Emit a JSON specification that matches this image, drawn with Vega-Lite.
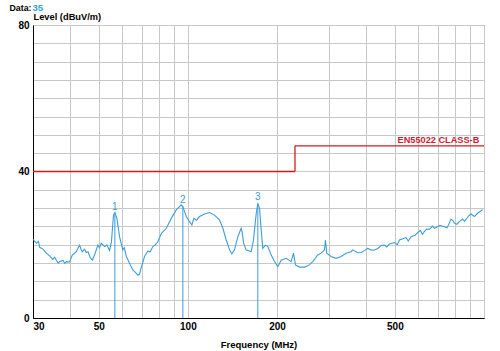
{
  "$schema": "https://vega.github.io/schema/vega-lite/v6.json",
  "width": 451,
  "height": 293,
  "autosize": {"type": "none"},
  "padding": {"left": 33, "top": 25, "right": 16, "bottom": 33},
  "background": "white",
  "config": {"view": {"stroke": "#444444", "strokeWidth": 1}, "font": "Liberation Sans"},
  "datasets": {
    "trace": [
      {"freq": 30.0, "level": 21.5}, {"freq": 30.8, "level": 20.4}, {"freq": 31.3, "level": 20.9},
      {"freq": 31.6, "level": 19.3}, {"freq": 32.4, "level": 18.8}, {"freq": 33.3, "level": 17.7},
      {"freq": 34.2, "level": 16.9}, {"freq": 35.0, "level": 16.0}, {"freq": 35.5, "level": 16.6},
      {"freq": 36.0, "level": 15.7}, {"freq": 36.5, "level": 15.0}, {"freq": 36.9, "level": 15.4},
      {"freq": 37.9, "level": 15.7}, {"freq": 38.4, "level": 14.9}, {"freq": 38.9, "level": 15.4},
      {"freq": 39.9, "level": 15.3}, {"freq": 40.7, "level": 17.2}, {"freq": 41.3, "level": 17.6},
      {"freq": 42.0, "level": 18.1}, {"freq": 42.6, "level": 19.2}, {"freq": 43.1, "level": 19.9},
      {"freq": 43.6, "level": 18.7}, {"freq": 44.0, "level": 18.1}, {"freq": 44.8, "level": 18.8},
      {"freq": 45.4, "level": 17.9}, {"freq": 46.0, "level": 18.1}, {"freq": 46.8, "level": 16.5},
      {"freq": 47.6, "level": 15.8}, {"freq": 48.4, "level": 17.2}, {"freq": 49.7, "level": 19.9},
      {"freq": 50.3, "level": 19.2}, {"freq": 51.0, "level": 20.4}, {"freq": 52.4, "level": 19.5},
      {"freq": 53.3, "level": 19.9}, {"freq": 54.4, "level": 18.4}, {"freq": 55.2, "level": 20.8},
      {"freq": 56.1, "level": 28.1}, {"freq": 56.7, "level": 28.8}, {"freq": 57.6, "level": 27.2},
      {"freq": 58.8, "level": 22.2}, {"freq": 60.3, "level": 18.6}, {"freq": 61.0, "level": 19.2},
      {"freq": 62.0, "level": 16.8}, {"freq": 63.6, "level": 14.9}, {"freq": 65.2, "level": 13.1},
      {"freq": 67.0, "level": 12.2}, {"freq": 67.8, "level": 11.7}, {"freq": 68.7, "level": 12.0},
      {"freq": 69.2, "level": 13.1}, {"freq": 71.4, "level": 16.8}, {"freq": 73.3, "level": 18.3},
      {"freq": 74.5, "level": 18.0}, {"freq": 76.2, "level": 19.5}, {"freq": 77.5, "level": 19.9},
      {"freq": 79.2, "level": 20.8}, {"freq": 81.4, "level": 23.1}, {"freq": 84.6, "level": 24.5},
      {"freq": 87.9, "level": 27.2}, {"freq": 91.4, "level": 29.5}, {"freq": 95.0, "level": 30.9},
      {"freq": 96.2, "level": 30.4}, {"freq": 98.8, "level": 27.7}, {"freq": 101.3, "level": 26.3},
      {"freq": 103.2, "level": 25.4}, {"freq": 104.8, "level": 27.2}, {"freq": 107.0, "level": 26.7},
      {"freq": 109.5, "level": 27.7}, {"freq": 113.8, "level": 28.4}, {"freq": 118.4, "level": 28.8},
      {"freq": 123.0, "level": 28.1}, {"freq": 127.9, "level": 26.8}, {"freq": 131.3, "level": 24.5},
      {"freq": 134.8, "level": 21.3}, {"freq": 138.3, "level": 18.6}, {"freq": 140.8, "level": 17.5},
      {"freq": 143.7, "level": 18.6}, {"freq": 147.5, "level": 22.2}, {"freq": 151.4, "level": 24.5},
      {"freq": 152.5, "level": 23.6}, {"freq": 154.2, "level": 20.5}, {"freq": 157.4, "level": 18.6},
      {"freq": 163.6, "level": 18.1}, {"freq": 166.6, "level": 21.3}, {"freq": 170.2, "level": 28.6},
      {"freq": 172.3, "level": 31.3}, {"freq": 174.6, "level": 30.0}, {"freq": 176.9, "level": 24.0},
      {"freq": 179.1, "level": 19.0}, {"freq": 182.9, "level": 19.9}, {"freq": 186.2, "level": 19.5},
      {"freq": 191.2, "level": 17.2}, {"freq": 196.1, "level": 15.4}, {"freq": 201.2, "level": 14.0},
      {"freq": 206.6, "level": 15.8}, {"freq": 214.8, "level": 16.3}, {"freq": 223.3, "level": 15.4},
      {"freq": 227.3, "level": 17.7}, {"freq": 230.9, "level": 14.5}, {"freq": 238.2, "level": 13.9},
      {"freq": 247.6, "level": 13.9}, {"freq": 257.4, "level": 14.5}, {"freq": 264.1, "level": 15.4},
      {"freq": 274.6, "level": 17.2}, {"freq": 281.9, "level": 17.7}, {"freq": 289.2, "level": 18.6},
      {"freq": 291.5, "level": 21.3}, {"freq": 294.4, "level": 17.7}, {"freq": 304.6, "level": 16.8},
      {"freq": 316.7, "level": 16.3}, {"freq": 329.3, "level": 16.8}, {"freq": 342.3, "level": 17.7},
      {"freq": 355.9, "level": 18.1}, {"freq": 360.0, "level": 18.6}, {"freq": 374.6, "level": 17.8},
      {"freq": 385.0, "level": 17.9}, {"freq": 394.7, "level": 18.4}, {"freq": 405.0, "level": 19.0},
      {"freq": 415.8, "level": 18.6}, {"freq": 425.0, "level": 18.5}, {"freq": 437.5, "level": 19.0},
      {"freq": 450.0, "level": 19.8}, {"freq": 460.9, "level": 19.9}, {"freq": 470.0, "level": 19.4},
      {"freq": 479.2, "level": 20.2}, {"freq": 498.2, "level": 20.6}, {"freq": 510.0, "level": 20.0},
      {"freq": 518.0, "level": 21.3}, {"freq": 538.5, "level": 21.8}, {"freq": 545.0, "level": 22.0},
      {"freq": 555.0, "level": 21.0}, {"freq": 567.3, "level": 22.2}, {"freq": 585.0, "level": 22.6},
      {"freq": 597.0, "level": 23.3}, {"freq": 610.0, "level": 23.9}, {"freq": 620.0, "level": 22.8},
      {"freq": 629.0, "level": 23.6}, {"freq": 640.0, "level": 24.3}, {"freq": 653.9, "level": 24.2},
      {"freq": 670.9, "level": 25.1}, {"freq": 680.0, "level": 24.5}, {"freq": 697.5, "level": 24.9},
      {"freq": 710.0, "level": 25.3}, {"freq": 734.8, "level": 24.9}, {"freq": 750.0, "level": 24.6},
      {"freq": 763.8, "level": 25.9}, {"freq": 774.0, "level": 27.0}, {"freq": 785.0, "level": 26.6},
      {"freq": 794.1, "level": 25.9}, {"freq": 810.0, "level": 25.6}, {"freq": 825.6, "level": 26.3},
      {"freq": 847.0, "level": 27.0}, {"freq": 860.0, "level": 26.4}, {"freq": 880.6, "level": 27.5},
      {"freq": 890.0, "level": 28.0}, {"freq": 904.2, "level": 28.4}, {"freq": 927.6, "level": 27.7},
      {"freq": 951.6, "level": 28.6}, {"freq": 977.2, "level": 29.3}, {"freq": 990.0, "level": 29.6}
    ],
    "grid40": [
      {"freq": 230, "freq2": 1000, "level": 40}
    ],
    "limit": [
      {"freq": 30, "freq2": 230, "level": 40, "level2": 40},
      {"freq": 230, "freq2": 230, "level": 40, "level2": 47},
      {"freq": 230, "freq2": 1000, "level": 47, "level2": 47}
    ],
    "limitLabel": [
      {"freq": 964, "level": 47, "label": "EN55022 CLASS-B"}
    ],
    "markers": [
      {"m": "1", "freq": 56.7, "level": 28.8},
      {"m": "2", "freq": 96.2, "level": 30.6},
      {"m": "3", "freq": 172.3, "level": 31.3}
    ]
  },
  "resolve": {"axis": {"x": "independent", "y": "independent"}},
  "layer": [
    {
      "data": {"name": "grid40"},
      "mark": {"type": "rule", "color": "#c8c8c8", "strokeWidth": 1},
      "encoding": {
        "x": {"field": "freq", "type": "quantitative", "scale": {"type": "log", "domain": [30, 1000], "nice": false}, "axis": null},
        "x2": {"field": "freq2"},
        "y": {"field": "level", "type": "quantitative", "scale": {"domain": [0, 80], "nice": false}, "axis": null}
      }
    },
    {
      "data": {"name": "trace"},
      "mark": {"type": "line", "color": "#3d9dda", "strokeWidth": 1.1, "clip": true},
      "encoding": {
        "x": {
          "field": "freq", "type": "quantitative",
          "scale": {"type": "log", "domain": [30, 1000], "nice": false},
          "axis": {
            "orient": "bottom",
            "values": [30, 40, 50, 60, 70, 80, 90, 100, 200, 300, 400, 500, 600, 700, 800, 900, 1000],
            "format": "d",
            "labelExpr": "indexof([30,50,100,200,500], datum.value) >= 0 ? datum.label : ''",
            "labelFlush": true,
            "labelOverlap": false,
            "ticks": false,
            "domainColor": "black",
            "grid": true,
            "gridColor": "#c8c8c8",
            "labelFont": "Liberation Sans",
            "labelFontWeight": "bold",
            "labelFontSize": 10,
            "labelColor": "black",
            "labelPadding": 3,
            "title": "Frequency (MHz)",
            "titleFont": "Liberation Sans",
            "titleFontSize": 9.5,
            "titleFontWeight": "bold",
            "titleColor": "black",
            "titleY": 29,
            "titleBaseline": "alphabetic"
          }
        },
        "y": {
          "field": "level", "type": "quantitative",
          "scale": {"domain": [0, 80], "nice": false},
          "axis": {
            "orient": "left",
            "values": [0, 5, 10, 15, 20, 25, 30, 35, 40, 45, 50, 55, 60, 65, 70, 75, 80],
            "labelExpr": "datum.value % 40 == 0 ? datum.label : ''",
            "labelOverlap": false,
            "ticks": false,
            "domainColor": "black",
            "grid": true,
            "gridColor": "#c8c8c8",
            "gridOpacity": {"expr": "datum.value == 40 ? 0 : 1"},
            "labelFont": "Liberation Sans",
            "labelFontWeight": "bold",
            "labelFontSize": 10,
            "labelColor": "black",
            "labelPadding": 4,
            "title": "Level (dBuV/m)",
            "titleFont": "Liberation Sans",
            "titleFontSize": 9.3,
            "titleFontWeight": "bold",
            "titleColor": "black",
            "titleAngle": 0,
            "titleX": 0,
            "titleY": -6,
            "titleAlign": "left",
            "titleBaseline": "alphabetic"
          }
        }
      }
    },
    {
      "data": {"name": "limit"},
      "mark": {"type": "rule", "color": "#d41a1a", "strokeWidth": 1.3},
      "encoding": {
        "x": {"field": "freq", "type": "quantitative", "scale": {"type": "log", "domain": [30, 1000], "nice": false}, "axis": null},
        "x2": {"field": "freq2"},
        "y": {"field": "level", "type": "quantitative", "scale": {"domain": [0, 80], "nice": false}, "axis": null},
        "y2": {"field": "level2"}
      }
    },
    {
      "data": {"name": "limitLabel"},
      "mark": {"type": "text", "color": "#cc2233", "fontSize": 9.2, "fontWeight": "bold", "font": "Liberation Sans", "align": "right", "baseline": "alphabetic", "dy": -3},
      "encoding": {
        "x": {"field": "freq", "type": "quantitative", "scale": {"type": "log", "domain": [30, 1000], "nice": false}, "axis": null},
        "y": {
          "field": "level", "type": "quantitative", "scale": {"domain": [0, 80], "nice": false},
          "axis": {
            "orient": "right", "labels": false, "ticks": false, "domain": false, "grid": false,
            "title": "Data:", "titleAngle": 0, "titleX": -475, "titleY": -15,
            "titleAlign": "left", "titleBaseline": "alphabetic",
            "titleFont": "Liberation Sans", "titleFontSize": 8.8, "titleFontWeight": "bold", "titleColor": "black"
          }
        },
        "text": {"field": "label"}
      }
    },
    {
      "data": {"name": "markers"},
      "mark": {"type": "rule", "color": "#3d9dda", "strokeWidth": 1},
      "encoding": {
        "x": {"field": "freq", "type": "quantitative", "scale": {"type": "log", "domain": [30, 1000], "nice": false}, "axis": null},
        "y": {"field": "level", "type": "quantitative", "scale": {"domain": [0, 80], "nice": false}, "axis": null},
        "y2": {"datum": 0}
      }
    },
    {
      "data": {"name": "markers"},
      "mark": {"type": "text", "color": "#3d9dda", "fontSize": 10, "font": "Liberation Sans", "baseline": "alphabetic", "dy": -3},
      "encoding": {
        "x": {
          "field": "freq", "type": "quantitative", "scale": {"type": "log", "domain": [30, 1000], "nice": false},
          "axis": {
            "orient": "top", "labels": false, "ticks": false, "domain": false, "grid": false,
            "title": "35", "titleX": -1, "titleY": -15, "titleAlign": "left", "titleBaseline": "alphabetic",
            "titleFont": "Liberation Sans", "titleFontSize": 9.5, "titleFontWeight": "bold", "titleColor": "#2ea3d6"
          }
        },
        "y": {"field": "level", "type": "quantitative", "scale": {"domain": [0, 80], "nice": false}, "axis": null},
        "text": {"field": "m"}
      }
    }
  ]
}
